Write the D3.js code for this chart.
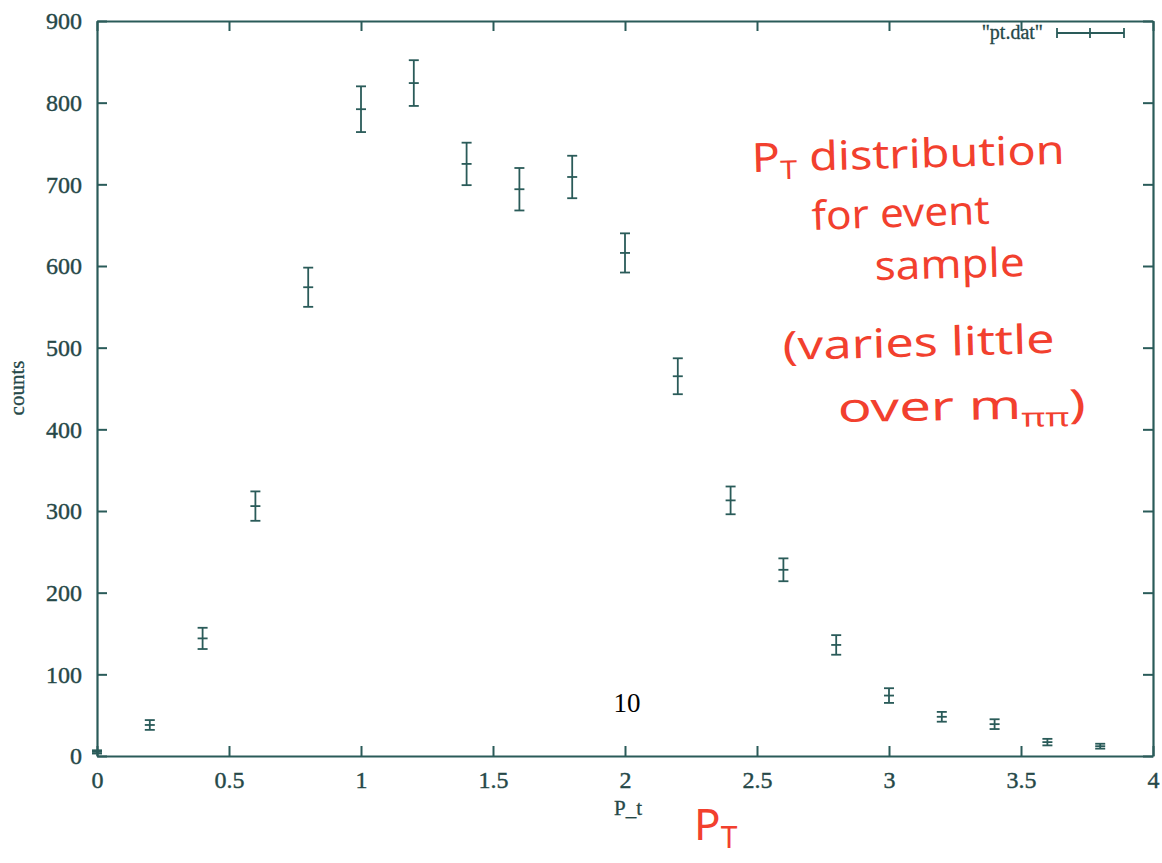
<!DOCTYPE html>
<html>
<head>
<meta charset="utf-8">
<script src="https://cdn.jsdelivr.net/npm/d3@7"></script>
<style>
  html, body { margin: 0; padding: 0; background: #ffffff; }
  svg { display: block; }
</style>
</head>
<body>
<svg id="chart" width="1162" height="863"></svg>
<script>
// Transverse momentum bins (GeV) and histogram contents with their errors
const ptBins  = [0, 0.2, 0.4, 0.6, 0.8, 1.0, 1.2, 1.4, 1.6, 1.8, 2.0, 2.2, 2.4, 2.6, 2.8, 3.0, 3.2, 3.4, 3.6, 3.8];
const counts  = [5, 38, 144, 306, 574, 792, 824, 725, 694, 709, 616, 465, 313, 228, 136, 74, 48, 39, 17, 12];
const errors  = [2, 6, 13, 18, 24, 28, 28, 26, 26, 26, 24, 22, 17, 14, 12, 9, 6, 6, 4, 3];

const xTicks = [0, 0.5, 1, 1.5, 2, 2.5, 3, 3.5, 4];
const yTicks = [0, 100, 200, 300, 400, 500, 600, 700, 800, 900];

const ink = "#2a5b59";
const inkText = "#264848";
const pen = "#f2402e";
const serif = "'Liberation Serif', 'DejaVu Serif', serif";

const svg = d3.select("#chart");

const x = d3.scaleLinear().domain([0, 4]).range([97, 1153]);
const y = d3.scaleLinear().domain([0, 900]).range([756, 21]);

// Axes: gnuplot style, ticks pointing into the frame on all four sides
function styleAxis(g, showLabels) {
  g.select(".domain").attr("stroke", ink).attr("stroke-width", 2.2);
  g.selectAll(".tick line").attr("stroke", ink).attr("stroke-width", 2);
  g.selectAll(".tick text")
    .attr("fill", inkText)
    .attr("stroke", inkText)
    .attr("stroke-width", 0.4)
    .style("font-family", serif)
    .style("font-size", "24px")
    .style("display", showLabels ? null : "none");
}

svg.append("g")
  .attr("transform", `translate(0,${y(0)})`)
  .call(d3.axisBottom(x).tickValues(xTicks).tickSizeInner(-10).tickSizeOuter(0).tickPadding(15).tickFormat(d3.format("")))
  .call(g => styleAxis(g, true));

svg.append("g")
  .attr("transform", `translate(${x(0)},0)`)
  .call(d3.axisLeft(y).tickValues(yTicks).tickSizeInner(-10).tickSizeOuter(0).tickPadding(15))
  .call(g => styleAxis(g, true));

svg.append("g")
  .attr("transform", `translate(0,${y(900)})`)
  .call(d3.axisTop(x).tickValues(xTicks).tickSizeInner(-10).tickSizeOuter(0))
  .call(g => styleAxis(g, false));

svg.append("g")
  .attr("transform", `translate(${x(4)},0)`)
  .call(d3.axisRight(y).tickValues(yTicks).tickSizeInner(-10).tickSizeOuter(0))
  .call(g => styleAxis(g, false));

// Axis titles
svg.append("text")
  .attr("x", 628).attr("y", 815)
  .attr("text-anchor", "middle")
  .attr("fill", inkText).attr("stroke", inkText).attr("stroke-width", 0.3)
  .style("font-family", serif).style("font-size", "21px")
  .text("P_t");

svg.append("text")
  .attr("transform", "translate(24,388) rotate(-90)")
  .attr("text-anchor", "middle")
  .attr("fill", inkText).attr("stroke", inkText).attr("stroke-width", 0.3)
  .style("font-family", serif).style("font-size", "21px")
  .text("counts");

// Error bars: vertical bar, caps at ±err, and a tick at the central value
const capHalf = 5;
const pts = ptBins.map((p, i) => ({ p, c: counts[i], e: errors[i] }));

const bars = svg.append("g")
  .attr("stroke", ink)
  .attr("stroke-width", 1.8)
  .attr("fill", "none");

const bar = bars.selectAll("g.bar").data(pts).join("g").attr("class", "bar");
bar.append("line")
  .attr("x1", d => x(d.p)).attr("x2", d => x(d.p))
  .attr("y1", d => y(d.c + d.e)).attr("y2", d => y(d.c - d.e));
bar.append("line")
  .attr("x1", d => x(d.p) - capHalf).attr("x2", d => x(d.p) + capHalf)
  .attr("y1", d => y(d.c + d.e)).attr("y2", d => y(d.c + d.e));
bar.append("line")
  .attr("x1", d => x(d.p) - capHalf).attr("x2", d => x(d.p) + capHalf)
  .attr("y1", d => y(d.c - d.e)).attr("y2", d => y(d.c - d.e));
bar.append("line")
  .attr("x1", d => x(d.p) - capHalf).attr("x2", d => x(d.p) + capHalf)
  .attr("y1", d => y(d.c)).attr("y2", d => y(d.c));

// Key
const key = svg.append("g");
key.append("text")
  .attr("x", 1043).attr("y", 39)
  .attr("text-anchor", "end")
  .attr("fill", inkText).attr("stroke", inkText).attr("stroke-width", 0.3)
  .style("font-family", serif).style("font-size", "20px")
  .text("\"pt.dat\"");
key.append("line").attr("x1", 1057).attr("x2", 1124).attr("y1", 33).attr("y2", 33)
  .attr("stroke", ink).attr("stroke-width", 1.8);
[1057, 1090, 1124].forEach(kx => {
  key.append("line").attr("x1", kx).attr("x2", kx).attr("y1", 28).attr("y2", 38)
    .attr("stroke", ink).attr("stroke-width", 1.8);
});

// Page number
svg.append("text")
  .attr("x", 627).attr("y", 712)
  .attr("text-anchor", "middle")
  .attr("fill", "#000")
  .style("font-family", serif).style("font-size", "27px")
  .text("10");

// Pen annotations
const hand = svg.append("g")
  .attr("fill", pen)
  .style("font-family", "'Noto Sans', 'DejaVu Sans', sans-serif")
  .style("font-size", "40px");

function note(xp, yp, len, parts, rot) {
  const t = hand.append("text")
    .attr("x", xp).attr("y", yp)
    .attr("textLength", len)
    .attr("lengthAdjust", "spacingAndGlyphs")
    .attr("transform", `rotate(${rot || 0},${xp},${yp})`);
  parts.forEach(pt => {
    const s = t.append("tspan").text(pt.t);
    if (pt.sub) s.attr("baseline-shift", "-30%").style("font-size", "26px");
  });
}

note(752, 172, 313, [{ t: "P" }, { t: "T", sub: true }, { t: " distribution" }], -1.5);
note(812, 230, 178, [{ t: "for event" }], -2);
note(875, 280, 150, [{ t: "sample" }], -1.5);
note(783, 360, 272, [{ t: "(varies little" }], -1.5);
note(838, 422, 248, [{ t: "over m" }, { t: "ππ", sub: true }, { t: ")" }], -1);

// Hand-written axis name under the printed one
const ptMark = hand.append("text")
  .attr("x", 694).attr("y", 840)
  .style("font-size", "44px");
ptMark.append("tspan").text("P");
ptMark.append("tspan").text("T").attr("dy", 8).style("font-size", "30px");
</script>
</body>
</html>
